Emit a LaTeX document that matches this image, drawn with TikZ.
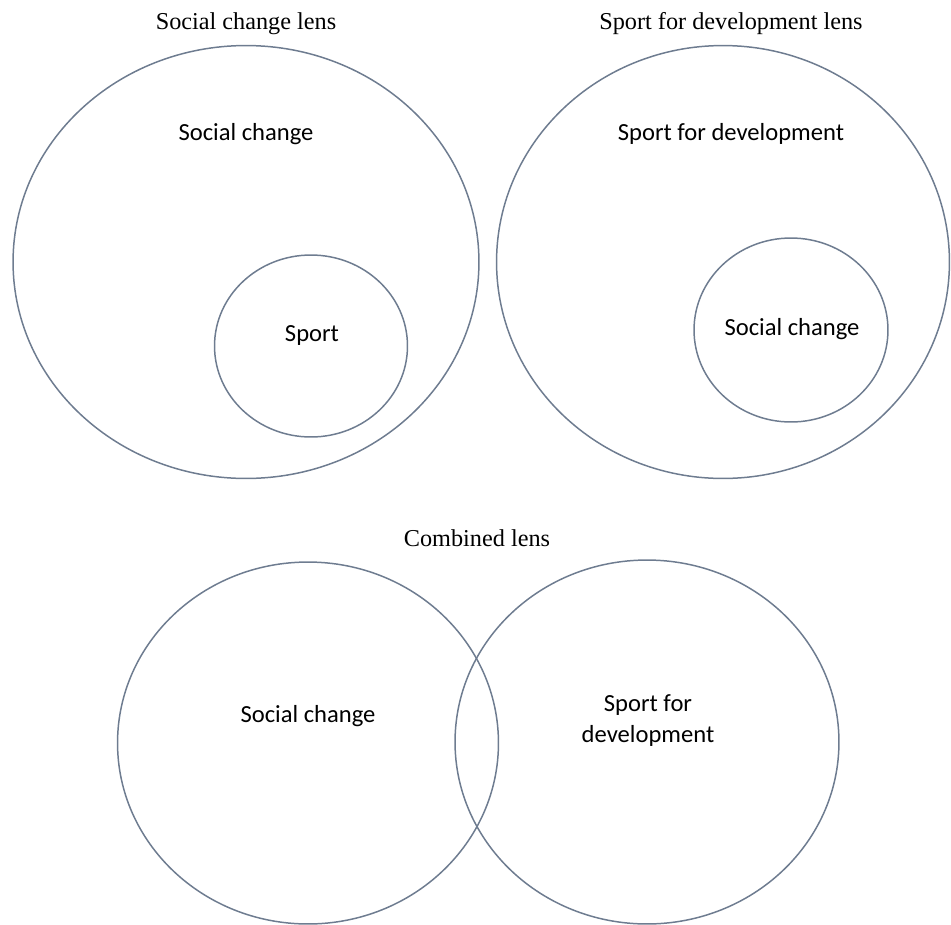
\documentclass[tikz,border=0pt]{standalone}
\usepackage{fontspec}
\setmainfont{Liberation Serif}
\newfontfamily\labelfont{Carlito}
\usepackage{xcolor}
\usetikzlibrary{shapes.geometric}
\definecolor{lensline}{HTML}{6E7C90}

\begin{document}
\begin{tikzpicture}[x=0.02cm, y=-0.02cm,
                        lens/.style={draw=lensline, line width=0.85pt, ellipse, inner sep=0pt},
                        title/.style={font=\fontsize{13.8}{16}\selectfont},
                        label/.style={font=\labelfont\fontsize{14}{17.6}\selectfont, align=center}]
        \useasboundingbox (0,0) rectangle (951,924);
        % social change lens
        \node[lens, minimum width=9.32cm, minimum height=8.66cm] (scbig) at (246,262) {};
        \node[lens, minimum width=3.86cm, minimum height=3.64cm] (scsmall) at (311,346) {};
        \node[title] (sctitle) at (246,24) {Social change lens};
        \node[label] (sclabel) at (246,134) {Social change};
        \node[label] (sport) at (312,335) {Sport};
        % sport for development lens
        \node[lens, minimum width=9.06cm, minimum height=8.66cm] (sfdbig) at (723,262) {};
        \node[lens, minimum width=3.88cm, minimum height=3.68cm] (sfdsmall) at (791,330) {};
        \node[title] (sfdtitle) at (731,24) {Sport for development lens};
        \node[label] (sfdlabel) at (731,134) {Sport for development};
        \node[label] (sfdinner) at (792,329) {Social change};
        % combined lens
        \node[lens, minimum width=7.62cm, minimum height=7.24cm] (left) at (308,743) {};
        \node[lens, minimum width=7.68cm, minimum height=7.28cm] (right) at (647,742) {};
        \node[title] (combtitle) at (477,538) {Combined lens};
        \node[label] (leftlabel) at (308,716) {Social change};
        \node[label] (rightlabel) at (648,721) {Sport for\\development};
    \end{tikzpicture}
\end{document}
